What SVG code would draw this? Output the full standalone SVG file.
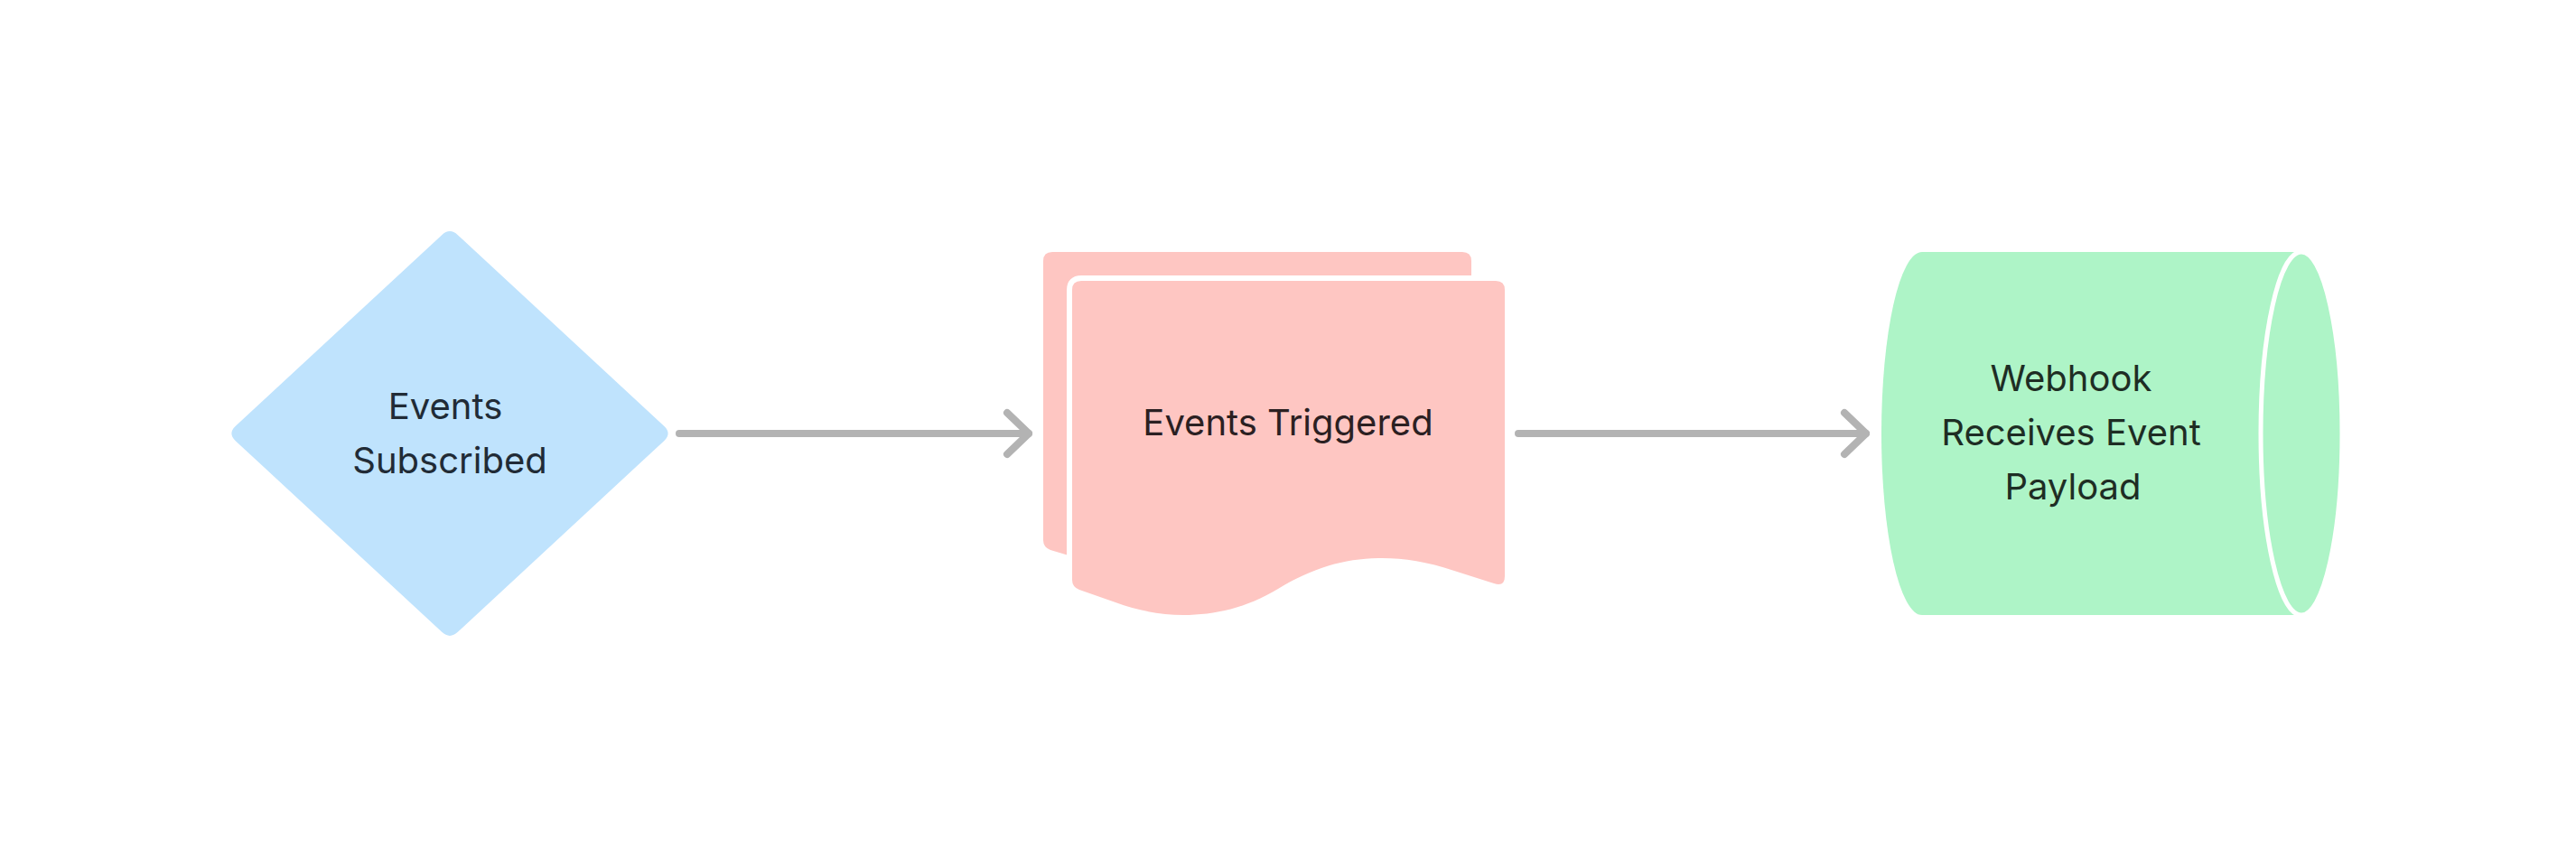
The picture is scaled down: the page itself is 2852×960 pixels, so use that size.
<svg xmlns="http://www.w3.org/2000/svg" width="2852" height="960" viewBox="0 0 2852 960">
  <style>
    .lbl { font-family: Inter, "Noto Sans", "Liberation Sans", sans-serif; font-size: 40px; text-anchor: middle; }
    .conn { fill: none; stroke: #b3b3b3; stroke-width: 8; stroke-linecap: round; stroke-linejoin: round; }
  </style>
  <defs>
    <marker id="arrow" markerUnits="userSpaceOnUse" viewBox="-40 -40 60 80" markerWidth="60" markerHeight="80" refX="0" refY="0" orient="auto" overflow="visible">
      <path d="M -24 -23 L 0 0 L -24 23" fill="none" stroke="#b3b3b3" stroke-width="8" stroke-linecap="round" stroke-linejoin="round"/>
    </marker>
  </defs>
  <rect x="0" y="0" width="2852" height="960" fill="#ffffff"/>

  <g id="node-events-subscribed">
    <path d="M 489.2 260.16 Q 498 252 506.8 260.16 L 735.2 471.84 Q 744 480 735.2 488.16 L 506.8 699.84 Q 498 708 489.2 699.84 L 260.8 488.16 Q 252 480 260.8 471.84 Z" fill="#bfe3fd"/>
    <text class="lbl" fill="#212b36"><tspan x="493" y="464">Events</tspan><tspan x="498" y="524">Subscribed</tspan></text>
  </g>

  <g id="node-events-triggered">
    <path d="M 1155 289 Q 1155 279 1165 279 H 1619 Q 1629 279 1629 289 V 600 L 1300 650 L 1163 609 Q 1155 606 1155 598 Z" fill="#fec6c2"/>
    <path d="M 1187 321 Q 1187 311 1197 311 H 1656 Q 1666 311 1666 321 V 638 Q 1666 650 1654 646 L 1610 632 C 1580 622 1555 618 1530 618 C 1490 618 1455 628 1415 652 C 1380 673 1345 681 1310 681 C 1285 681 1260 676 1235 667 L 1195 653 Q 1187 650 1187 642 Z" fill="#fec6c2" stroke="#ffffff" stroke-width="12" stroke-linejoin="round" paint-order="stroke"/>
    <text class="lbl" fill="#2b2022" x="1426" y="482">Events Triggered</text>
  </g>

  <g id="node-webhook">
    <path d="M 2128 279 H 2548 V 681 H 2128 A 45 201 0 0 1 2128 279 Z" fill="#aef4c7"/>
    <ellipse cx="2548" cy="480" rx="45" ry="201" fill="#aef4c7" stroke="#ffffff" stroke-width="5"/>
    <text class="lbl" fill="#1e2d24"><tspan x="2293" y="433">Webhook</tspan><tspan x="2293" y="493">Receives Event</tspan><tspan x="2295" y="553">Payload</tspan></text>
  </g>

  <g id="connectors">
    <path class="conn" d="M 752 480 L 1139 480" marker-end="url(#arrow)"/>
    <path class="conn" d="M 1681 480 L 2066 480" marker-end="url(#arrow)"/>
  </g>
</svg>
